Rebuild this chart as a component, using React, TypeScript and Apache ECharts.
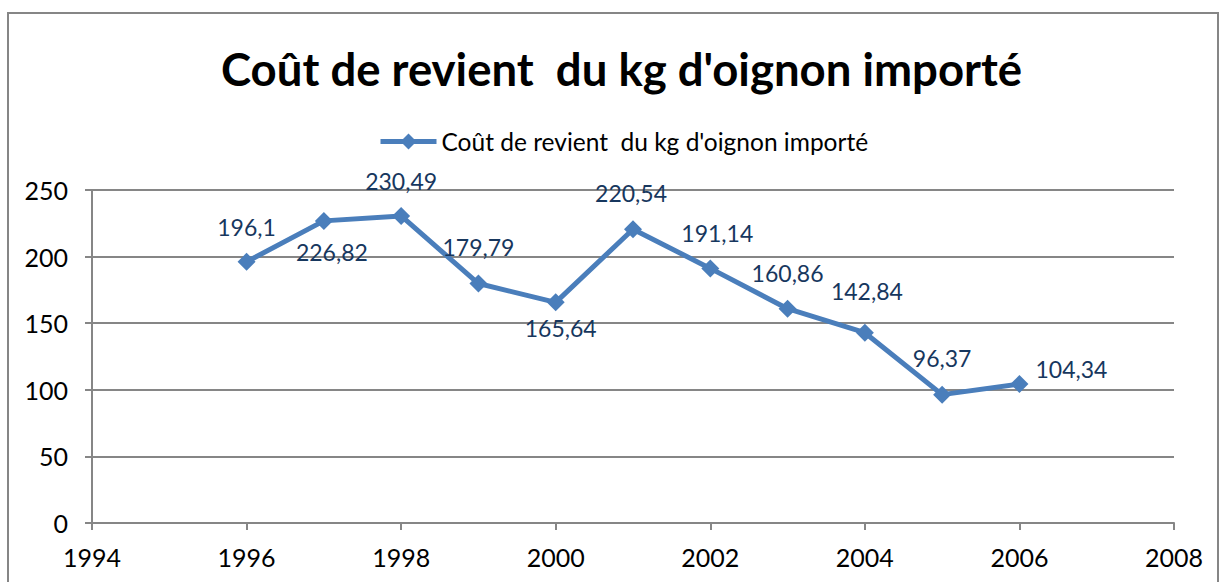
import React, { useEffect, useRef } from "react";
import * as echarts from "echarts";

const years = [1996, 1997, 1998, 1999, 2000, 2001, 2002, 2003, 2004, 2005, 2006];
const costs = [196.1, 226.82, 230.49, 179.79, 165.64, 220.54, 191.14, 160.86, 142.84, 96.37, 104.34];
const labelOffsets: [number, number][] = [
  [0, -35], [8, 31], [0, -35], [0, -37], [5, 26], [-2, -36], [7, -35], [0, -36], [2, -42], [0, -37], [52, -15],
];
const seriesName = "Coût de revient  du kg d'oignon importé";
const titleText = "Coût de revient  du kg d'oignon importé";

const FONT = "Lato, 'Open Sans', sans-serif";

export default function App() {
  const ref = useRef<HTMLDivElement>(null);
  useEffect(() => {
    if (!ref.current) return;
    const chart = echarts.init(ref.current, null, { renderer: "svg" });
    const fmt = (v: number) => String(v).replace(".", ",");
    chart.setOption({
      animation: false,
      backgroundColor: "#ffffff",
      textStyle: { fontFamily: FONT },
      title: {
        text: titleText,
        left: 216,
        top: 40,
        textStyle: { fontFamily: FONT, fontSize: 45.5, fontWeight: "bold", color: "#000000" },
      },
      legend: {
        top: 124,
        left: 373,
        itemWidth: 56,
        itemHeight: 20,
        itemGap: 5,
        lineStyle: { width: 5 },
        textStyle: { fontFamily: FONT, fontSize: 24.5, color: "#000000" },
        data: [{ name: seriesName }],
      },
      graphic: [
        {
          type: "rect",
          shape: { x: 8, y: 13, width: 1210, height: 620 },
          style: { fill: "none", stroke: "#868686", lineWidth: 2 },
          silent: true,
        },
      ],
      grid: { left: 92, right: 45, top: 190, bottom: 59, containLabel: false },
      xAxis: {
        type: "value",
        min: 1994,
        max: 2008,
        interval: 2,
        axisLine: { show: true, lineStyle: { color: "#868686", width: 2 } },
        axisTick: { show: true, length: 7, lineStyle: { color: "#868686", width: 2 } },
        splitLine: { show: false },
        axisLabel: { fontFamily: FONT, fontSize: 25, color: "#000000", margin: 21, formatter: (v: number) => String(v) },
      },
      yAxis: {
        type: "value",
        min: 0,
        max: 250,
        interval: 50,
        axisLine: { show: true, lineStyle: { color: "#868686", width: 2 } },
        axisTick: { show: true, length: 7, lineStyle: { color: "#868686", width: 2 } },
        splitLine: { show: true, lineStyle: { color: "#868686", width: 2 } },
        axisLabel: { fontFamily: FONT, fontSize: 25, color: "#000000", margin: 24 },
      },
      series: [
        {
          name: seriesName,
          type: "line",
          symbol: "diamond",
          symbolSize: 18,
          itemStyle: { color: "#4A7EBB" },
          lineStyle: { color: "#4A7EBB", width: 5 },
          data: years.map((y, i) => ({
            value: [y, costs[i]],
            label: {
              show: true,
              position: "inside",
              offset: labelOffsets[i],
              formatter: () => fmt(costs[i]),
              fontFamily: FONT,
              fontSize: 23,
              color: "#17375E",
            },
          })),
        },
      ],
    });
    return () => chart.dispose();
  }, []);
  return <div ref={ref} style={{ position: "fixed", left: 0, top: 0, width: 1219, height: 582 }} />;
}
